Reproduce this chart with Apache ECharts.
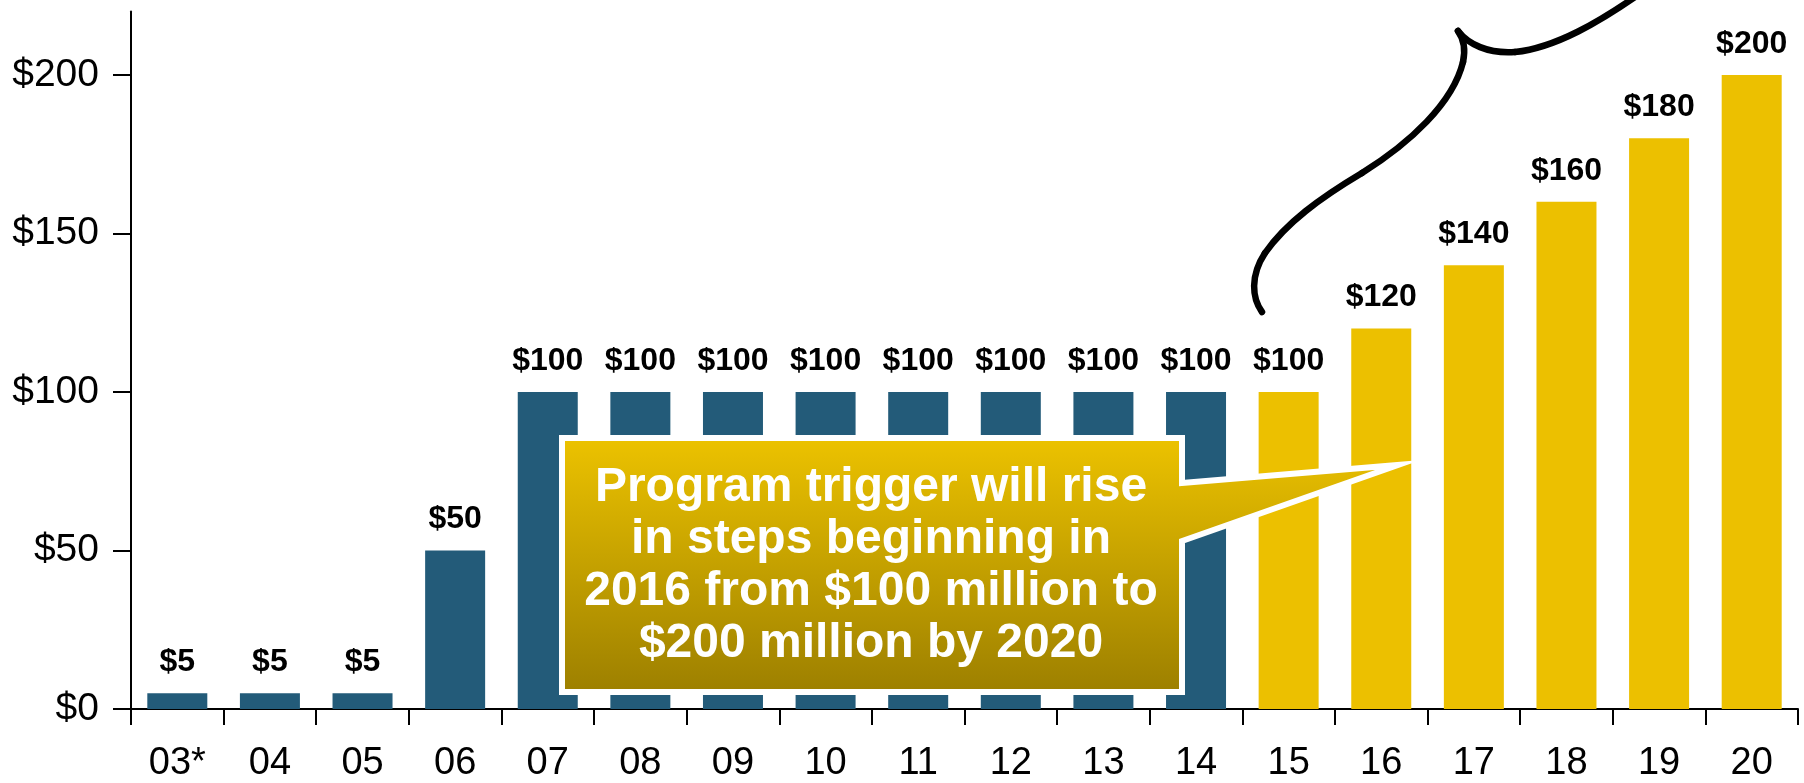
<!DOCTYPE html>
<html>
<head>
<meta charset="utf-8">
<script src="https://cdn.jsdelivr.net/npm/echarts@6/dist/echarts.min.js"></script>
<style>
html,body{margin:0;padding:0;background:#fff;}
#chart{width:1804px;height:783px;}
</style>
</head>
<body>
<div id="chart"></div>
<script>
// ---- data ----
const categories = ['03*','04','05','06','07','08','09','10','11','12','13','14','15','16','17','18','19','20'];
const historicalValues = [5,5,5,50,100,100,100,100,100,100,100,100];
const projectedValues = [100,120,140,160,180,200];
const yTickValues = [0,50,100,150,200];
const calloutLines = ['Program trigger will rise','in steps beginning in','2016 from $100 million to','$200 million by 2020'];

const histData = categories.map((c,i)=> i < historicalValues.length ? historicalValues[i] : null);
const projData = categories.map((c,i)=> i >= historicalValues.length ? projectedValues[i-historicalValues.length] : null);

const FONT = '"Liberation Sans", Arial, sans-serif';
const chart = echarts.init(document.getElementById('chart'));

const labelCfg = {
  show: true, position: 'top', distance: 15,
  fontFamily: FONT, fontWeight: 'bold', fontSize: 32, color: '#000',
  formatter: p => '$' + p.value
};

// brace segments (decorative annotation): [x1,y1,cpx1,cpy1,cpx2,cpy2,x2,y2]
const braceSegs = [
  [1262,312,1252,298,1250,276,1265,253],
  [1265,253,1286,223,1320,198,1362,173],
  [1362,173,1410,143,1453,103,1463,62],
  [1463,62,1466,48,1463,38,1458,31],
  [1458,31,1468,44,1488,54,1515,52],
  [1515,52,1555,48,1600,22,1645,-10]
];

const graphics = [
  {
    type: 'polygon', z: 100,
    shape: {points: [[562,438],[1182,438],[1182,483],[1398,465],[1182,541],[1182,692],[562,692]]},
    style: {
      fill: new echarts.graphic.LinearGradient(0,0,0,1,[{offset:0,color:'#EDC300'},{offset:1,color:'#9C7F00'}]),
      stroke: '#fff', lineWidth: 6, lineJoin: 'miter'
    }
  },
  {
    type: 'text', z: 101, x: 871, y: 566,
    style: {
      text: calloutLines.join('\n'), fill: '#fff', fontFamily: FONT, fontWeight: 'bold', fontSize: 48,
      lineHeight: 52, align: 'center', verticalAlign: 'middle'
    }
  }
].concat(braceSegs.map(s => ({
  type: 'bezierCurve', z: 100,
  shape: {x1: s[0], y1: s[1], cpx1: s[2], cpy1: s[3], cpx2: s[4], cpy2: s[5], x2: s[6], y2: s[7]},
  style: {stroke: '#000', lineWidth: 6.5, fill: null, lineCap: 'round'}
})));

chart.setOption({
  animation: false,
  backgroundColor: '#fff',
  grid: {left: 131, right: 6, top: 11.5, bottom: 71, containLabel: false},
  xAxis: {
    type: 'category', data: categories, boundaryGap: true,
    axisLine: {show: true, lineStyle: {color: '#000', width: 2}},
    axisTick: {show: true, length: 16, lineStyle: {color: '#000', width: 2}},
    axisLabel: {fontFamily: FONT, fontSize: 38, color: '#000', margin: 36, interval: 0},
    splitLine: {show: false}
  },
  yAxis: {
    type: 'value', min: 0, max: 220,
    axisLine: {show: true, lineStyle: {color: '#000', width: 2}},
    axisTick: {show: true, length: 18, customValues: yTickValues, lineStyle: {color: '#000', width: 2}},
    axisLabel: {fontFamily: FONT, fontSize: 39, color: '#000', margin: 32, customValues: yTickValues,
      formatter: v => '$' + v},
    splitLine: {show: false}
  },
  series: [
    {type: 'bar', data: histData, barWidth: 60, barGap: '-100%', itemStyle: {color: '#235B79'}, label: labelCfg},
    {type: 'bar', data: projData, barWidth: 60, barGap: '-100%', itemStyle: {color: '#ECC000'}, label: labelCfg}
  ],
  graphic: graphics
});
</script>
</body>
</html>
